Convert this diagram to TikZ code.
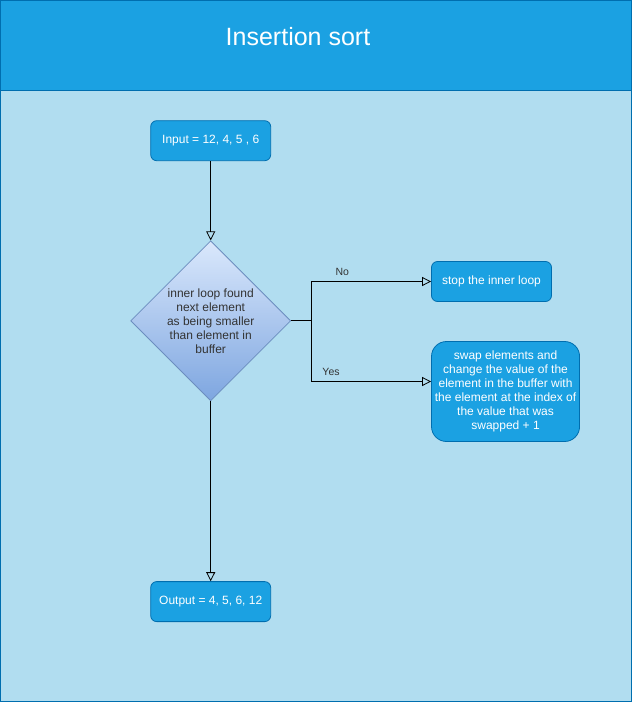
\documentclass[tikz,border=0pt]{standalone}
\usepackage{fontspec}
\setmainfont{Liberation Sans}
\usetikzlibrary{arrows.meta,positioning,shapes.geometric}

\definecolor{headblue}{HTML}{1BA1E2}
\definecolor{edgeblue}{HTML}{006EAF}
\definecolor{bodyblue}{HTML}{B1DDF0}
\definecolor{decitop}{HTML}{DAE8FC}
\definecolor{decibottom}{HTML}{7EA6E0}
\definecolor{deciline}{HTML}{6C8EBF}
\definecolor{textgray}{HTML}{333333}

\begin{document}
\begin{tikzpicture}[
  font=\fontsize{12}{14}\selectfont,
  box/.style={
    draw=edgeblue,
    fill=headblue,
    text=white,
    rounded corners=6pt,
    line width=0.8pt,
    align=center,
    minimum width=120pt,
    minimum height=40pt
  },
  bigbox/.style={box, rounded corners=15pt, minimum width=147pt, minimum height=100pt},
  decision/.style={
    diamond,
    draw=deciline,
    line width=0.8pt,
    top color=decitop,
    bottom color=decibottom,
    text=textgray,
    align=center,
    inner sep=0pt,
    minimum width=160pt,
    minimum height=160pt
  },
  edgelabel/.style={font=\fontsize{10.5}{12}\selectfont, text=textgray, above, inner sep=2pt, yshift=4pt},
  arrow/.style={-{Triangle[open, length=9pt, width=9pt]}, line width=0.8pt, draw=black}
]

\useasboundingbox (0,0) rectangle (632pt,-702pt);
\draw[draw=edgeblue, fill=bodyblue, line width=0.8pt] (0.5pt,-0.5pt) rectangle (631.5pt,-701.5pt);
\draw[draw=edgeblue, fill=headblue, line width=0.8pt] (0.5pt,-0.5pt) rectangle (631.5pt,-90.5pt);
\node[text=white, font=\fontsize{25}{30}\selectfont] (title) at (298pt,-37pt) {Insertion sort};

\node[box] (input) at (210.7pt,-140.7pt) {Input = 12, 4, 5 , 6};
\node[decision, below=79.3pt of input] (loop) {inner loop found\\next element\\as being smaller\\than element in\\buffer};
\node[box, below=180pt of loop] (output) {Output = 4, 5, 6, 12};
\node[box, right=140pt of loop, yshift=39.3pt] (stop) {stop the inner loop};
\node[bigbox, right=140pt of loop, yshift=-70.7pt] (swap) {swap elements and\\change the value of the\\element in the buffer with\\the element at the index of\\the value that was\\swapped + 1};

\draw[arrow] (input) -- (loop);
\draw[arrow] (loop) -- (output);
\draw[arrow] (loop.east) -- ++(20pt,0) |- node[edgelabel, pos=0.63] (nolabel) {No} (stop.west);
\draw[arrow] (loop.east) -- ++(20pt,0) |- node[edgelabel, pos=0.583] (yeslabel) {Yes} ([yshift=10pt]swap.west);

\end{tikzpicture}
\end{document}
